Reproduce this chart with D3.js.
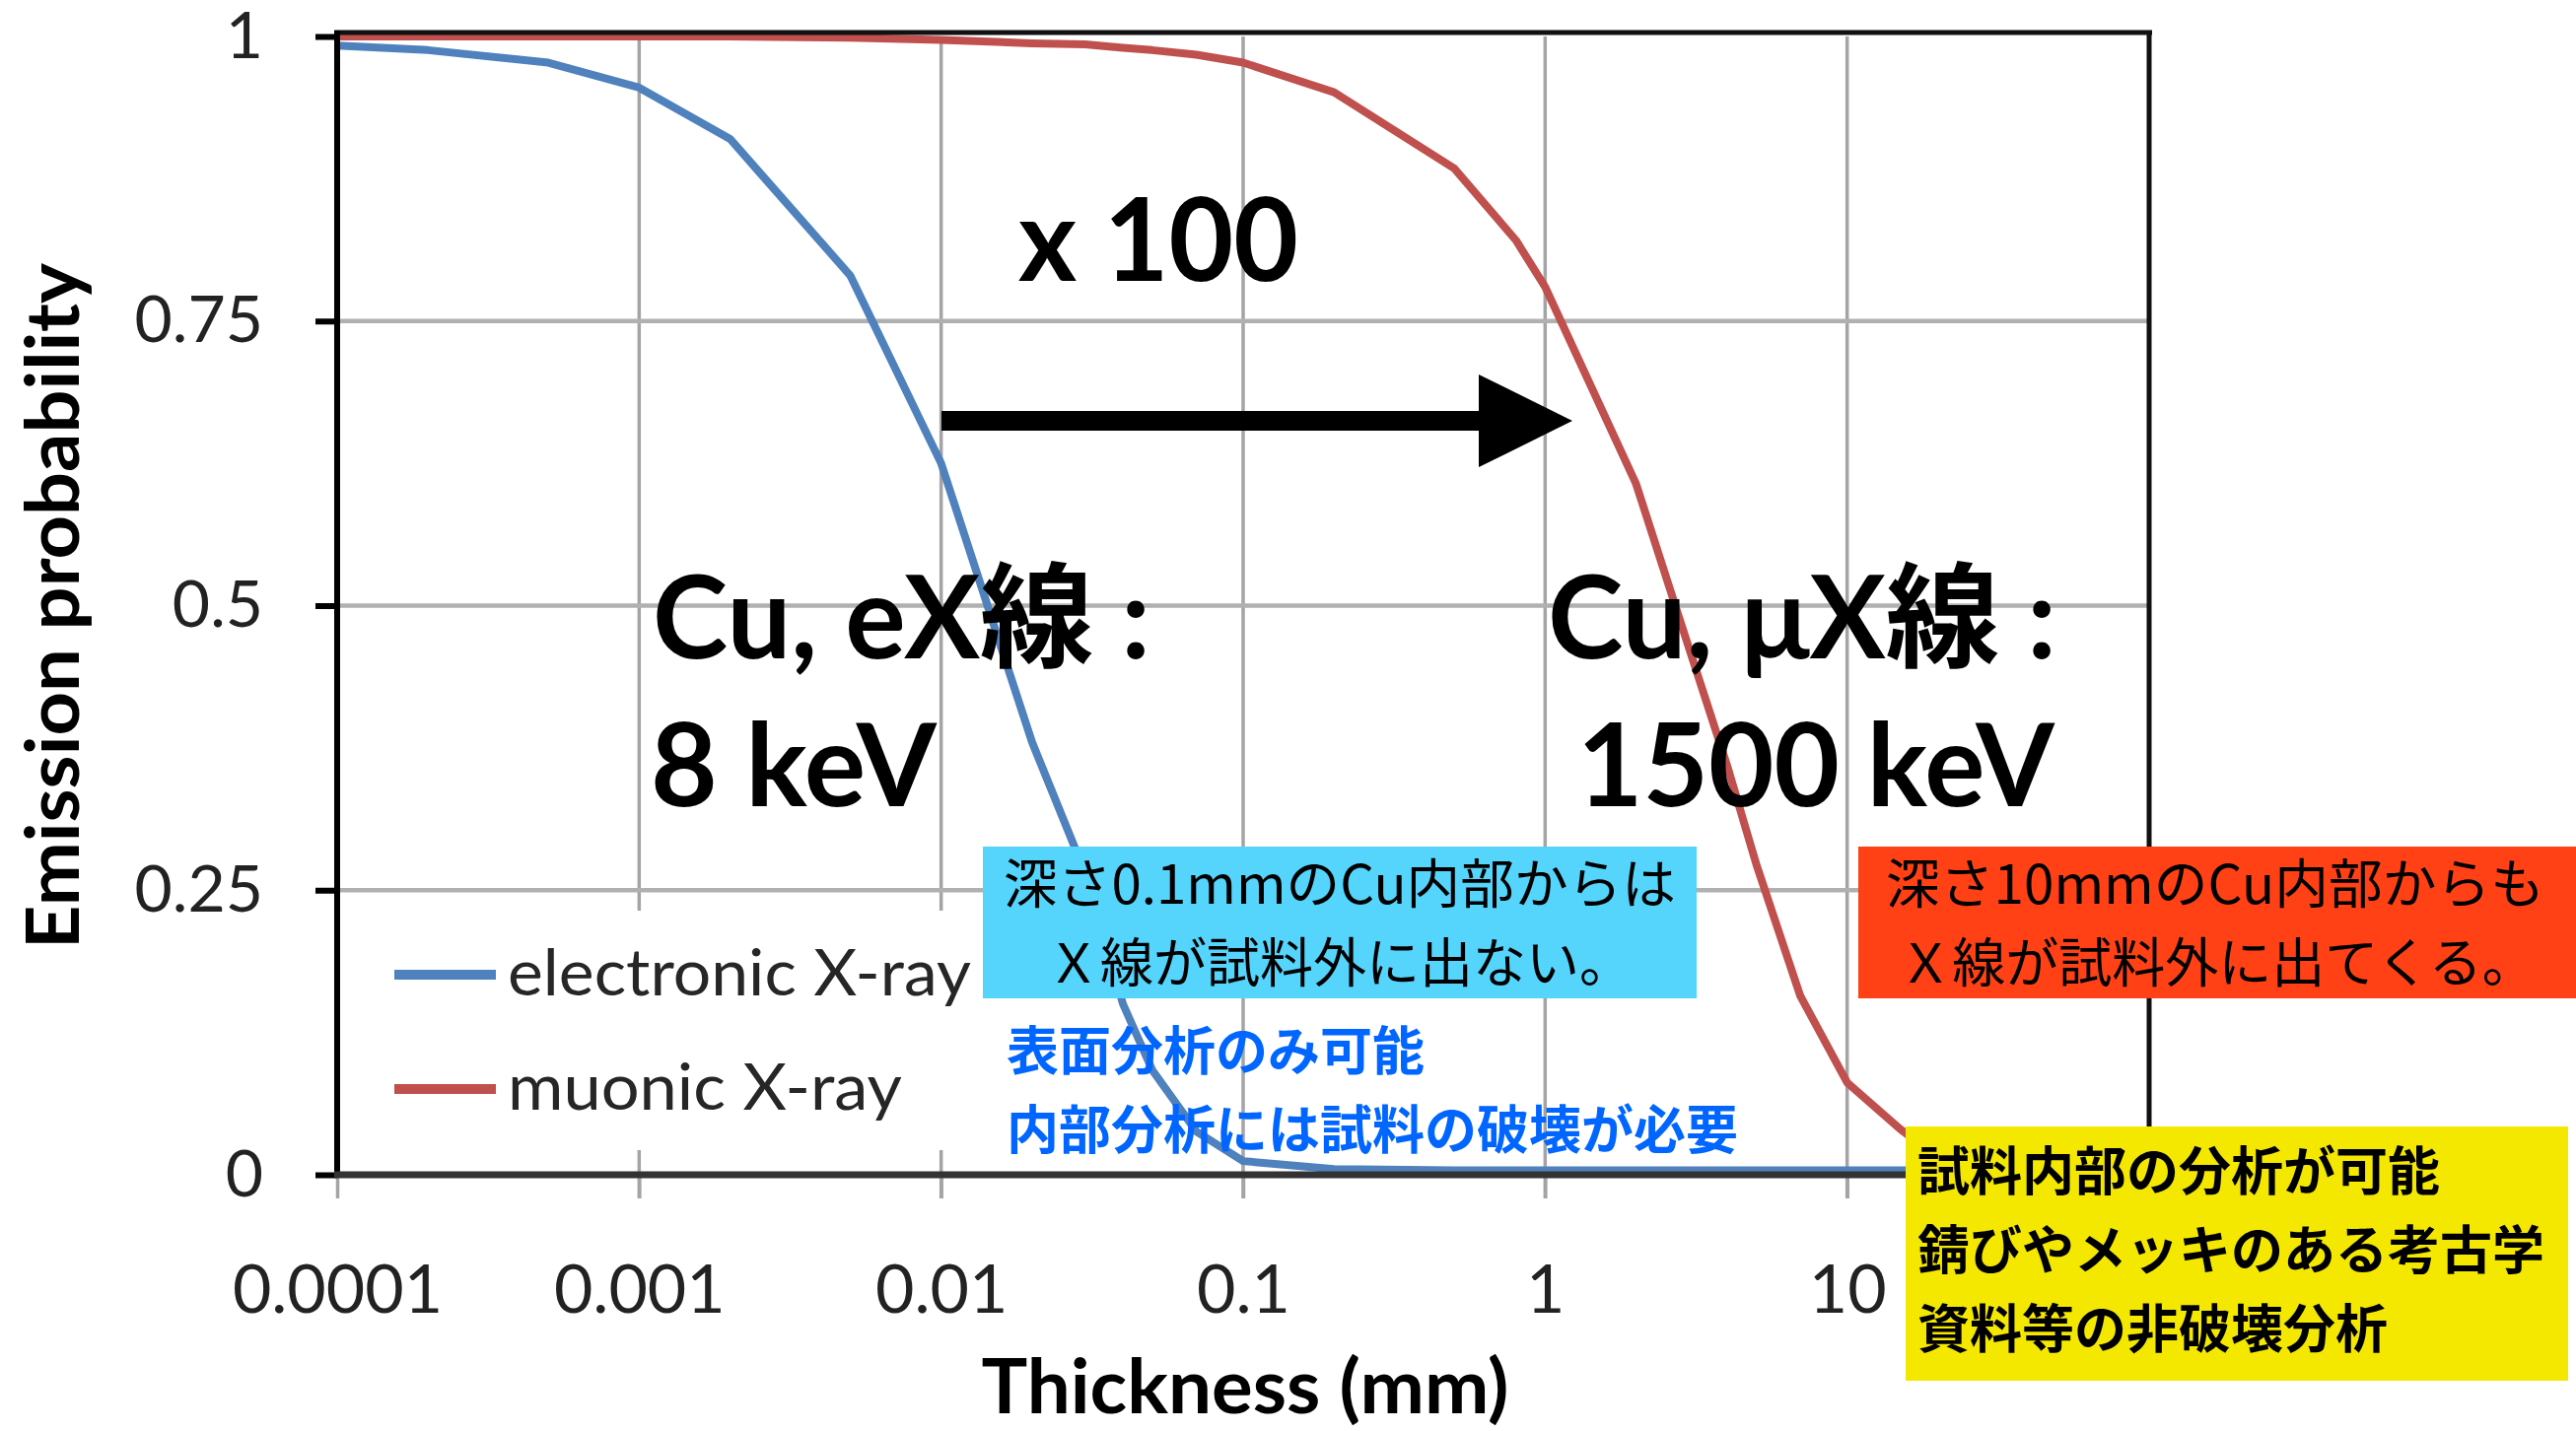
<!DOCTYPE html>
<html>
<head>
<meta charset="utf-8">
<script src="https://cdn.jsdelivr.net/npm/d3@7"></script>
<style>
  html, body { margin: 0; padding: 0; background: #fff; }
  svg { display: block; }
</style>
</head>
<body>
<svg id="chart" width="2613" height="1452"></svg>
<script>
// Sample thickness in mm (log axis)
const thickness = [1e-4, 2e-4, 5e-4, 1e-3, 2e-3, 5e-3, 0.01, 0.02, 0.03, 0.04, 0.05, 0.07,
                   0.1, 0.2, 0.5, 0.8, 1, 2, 3, 4, 5, 7, 10, 15, 20, 50, 100];

// Emission probability of Cu electronic X-rays (8 keV)
const electronic = [0.992, 0.988, 0.977, 0.955, 0.910, 0.790, 0.625, 0.380, 0.265, 0.150, 0.092, 0.038,
                    0.012, 0.005, 0.004, 0.004, 0.004, 0.004, 0.004, 0.004, 0.004, 0.004, 0.004, 0.004, 0.004, 0.004, 0.004];

// Emission probability of Cu muonic X-rays (1500 keV)
const muonic = [1.000, 1.000, 1.000, 1.000, 1.000, 0.999, 0.997, 0.994, 0.993, 0.990, 0.988, 0.984,
                0.977, 0.951, 0.884, 0.821, 0.780, 0.607, 0.462, 0.360, 0.273, 0.157, 0.081, 0.040, 0.015, 0.0, 0.0];

const seriesNames = ["electronic X-ray", "muonic X-ray"];
const seriesColors = ["#4F81BD", "#C0504D"];

// Labelled decades (the 100 mm decade is the right border, covered by the note box)
const xTicks = [1e-4, 1e-3, 1e-2, 1e-1, 1, 10];
const xTickLabels = ["0.0001", "0.001", "0.01", "0.1", "1", "10"];
const yTicks = [0, 0.25, 0.5, 0.75, 1];
const yTickLabels = ["0", "0.25", "0.5", "0.75", "1"];

const LATIN = "Lato, 'Noto Sans CJK JP', sans-serif";
const CJK = "'Noto Sans CJK JP', sans-serif";

const svg = d3.select("#chart");
svg.append("rect").attr("width", 2613).attr("height", 1452).attr("fill", "#fff");

const plot = { left: 342, right: 2180, top: 37, bottom: 1192 };
const x = d3.scaleLog().domain([1e-4, 100]).range([plot.left, plot.right]);
const y = d3.scaleLinear().domain([0, 1]).range([plot.bottom, plot.top]);

// Stretch a text element horizontally so its advance width equals `w`
function fit(sel, w, tx, ty, rot) {
  const n = sel.node();
  const cur = n.getComputedTextLength();
  const s = w / cur;
  sel.attr("x", 0).attr("y", 0)
     .attr("transform", `translate(${tx},${ty})` + (rot ? ` rotate(${rot})` : "") + ` scale(${s},1)`);
  return sel;
}

// Gridlines
const grid = svg.append("g");
grid.selectAll("line.v").data(xTicks.slice(1)).join("line")
  .attr("x1", d => x(d)).attr("x2", d => x(d))
  .attr("y1", plot.top).attr("y2", plot.bottom + 24)
  .attr("stroke", "#a4a4a4").attr("stroke-width", 3.5);
grid.selectAll("line.h").data([0.25, 0.5, 0.75]).join("line")
  .attr("x1", plot.left).attr("x2", plot.right)
  .attr("y1", d => y(d)).attr("y2", d => y(d))
  .attr("stroke", "#b0b0b0").attr("stroke-width", 4.5);

// X axis (gray outward ticks, labels below)
const xAxis = svg.append("g").attr("transform", `translate(0,${plot.bottom})`)
  .call(d3.axisBottom(x).tickValues(xTicks).tickFormat((d, i) => xTickLabels[i])
        .tickSize(24).tickPadding(68));
xAxis.select(".domain").remove();
xAxis.selectAll(".tick line").attr("stroke", "#a4a4a4").attr("stroke-width", 3.5);
xAxis.selectAll(".tick text").attr("font-family", LATIN).attr("font-size", 68).attr("fill", "#222");

// Y axis (black outward ticks, labels left)
const yAxis = svg.append("g").attr("transform", `translate(${plot.left},0)`)
  .call(d3.axisLeft(y).tickValues(yTicks).tickFormat((d, i) => yTickLabels[i])
        .tickSize(22).tickPadding(53));
yAxis.select(".domain").remove();
yAxis.selectAll(".tick line").attr("stroke", "#000").attr("stroke-width", 6);
yAxis.selectAll(".tick text").attr("font-family", LATIN).attr("font-size", 66).attr("fill", "#222");

// Legend background
svg.append("rect").attr("x", 355).attr("y", 924).attr("width", 640).attr("height", 243).attr("fill", "#fff");

// Data lines
const line = d3.line().x(d => x(d[0])).y(d => y(d[1]));
[electronic, muonic].forEach((vals, i) => {
  svg.append("path")
    .datum(thickness.map((t, k) => [t, vals[k]]))
    .attr("d", line)
    .attr("fill", "none")
    .attr("stroke", seriesColors[i])
    .attr("stroke-width", 8)
    .attr("stroke-linejoin", "round");
});

// Plot frame: left axis, bottom axis, top and right border
svg.append("line").attr("x1", plot.left - 3).attr("x2", plot.right + 3).attr("y1", plot.top - 4).attr("y2", plot.top - 4)
  .attr("stroke", "#111").attr("stroke-width", 5);
svg.append("line").attr("x1", plot.right).attr("x2", plot.right).attr("y1", plot.top - 6).attr("y2", plot.bottom)
  .attr("stroke", "#111").attr("stroke-width", 5);
svg.append("line").attr("x1", plot.left).attr("x2", plot.left).attr("y1", plot.top - 6).attr("y2", plot.bottom + 3)
  .attr("stroke", "#000").attr("stroke-width", 6);
svg.append("line").attr("x1", plot.left - 3).attr("x2", plot.right + 2).attr("y1", plot.bottom).attr("y2", plot.bottom)
  .attr("stroke", "#333").attr("stroke-width", 7);

// Legend entries
const legendY = [989, 1105];
seriesNames.forEach((name, i) => {
  svg.append("line").attr("x1", 400).attr("x2", 503).attr("y1", legendY[i]).attr("y2", legendY[i])
    .attr("stroke", seriesColors[i]).attr("stroke-width", 10);
  const t = svg.append("text").text(name)
    .attr("font-family", LATIN).attr("font-size", 66).attr("fill", "#262626");
  fit(t, i === 0 ? 470 : 400, 515, legendY[i] + 21);
});

// Axis titles
fit(svg.append("text").text("Emission probability")
      .attr("font-family", LATIN).attr("font-weight", 700).attr("font-size", 74)
      .attr("text-anchor", "middle").attr("fill", "#000"), 696, 80, 615, -90);
fit(svg.append("text").text("Thickness (mm)")
      .attr("font-family", LATIN).attr("font-weight", 700).attr("font-size", 76)
      .attr("text-anchor", "middle").attr("fill", "#000"), 535, 1263, 1434);

// Shift arrow: x 100
svg.append("line").attr("x1", 955).attr("x2", 1505).attr("y1", 427).attr("y2", 427)
  .attr("stroke", "#000").attr("stroke-width", 20);
svg.append("path").attr("d", "M1500,380 L1595,427 L1500,474 Z").attr("fill", "#000");

function boldLabel(str, tx, ty, w) {
  const t = svg.append("text").text(str)
    .attr("font-family", LATIN).attr("font-weight", 700).attr("font-size", 116).attr("fill", "#000");
  fit(t, w, tx, ty);
}
boldLabel("x 100", 1033, 285, 284);
boldLabel("Cu, eX線 :", 662, 668, 505);
boldLabel("8 keV", 660, 818, 290);
boldLabel("Cu, μX線 :", 1570, 668, 516);
boldLabel("1500 keV", 1600, 818, 484);

// Note boxes
svg.append("rect").attr("x", 997).attr("y", 859).attr("width", 724).attr("height", 154).attr("fill", "#55D4FC");
svg.append("rect").attr("x", 1885).attr("y", 859).attr("width", 728).attr("height", 154).attr("fill", "#FF4115");
svg.append("rect").attr("x", 1933).attr("y", 1143).attr("width", 672).attr("height", 258).attr("fill", "#F4E800");

function note(str, cx, ty, opts) {
  const t = svg.append("text").text(str)
    .attr("font-family", CJK).attr("font-size", opts.size || 54)
    .attr("font-weight", opts.weight || 400)
    .attr("fill", opts.fill || "#000")
    .attr("text-anchor", opts.anchor || "middle");
  if (opts.width) fit(t, opts.width, cx, ty);
  else t.attr("x", cx).attr("y", ty);
}
note("深さ0.1mmのCu内部からは", 1359, 917, { width: 682 });
note("Ｘ線が試料外に出ない。", 1359, 997, {});
note("深さ10mmのCu内部からも", 2247, 917, { width: 668 });
note("Ｘ線が試料外に出てくる。", 2249, 997, {});

note("表面分析のみ可能", 1021, 1086, { anchor: "start", size: 53, weight: 700, fill: "#0066FF" });
note("内部分析には試料の破壊が必要", 1021, 1166, { anchor: "start", size: 53, weight: 700, fill: "#0066FF" });

note("試料内部の分析が可能", 1945, 1208, { anchor: "start", size: 53, weight: 700 });
note("錆びやメッキのある考古学", 1945, 1288, { anchor: "start", size: 53, weight: 700 });
note("資料等の非破壊分析", 1945, 1368, { anchor: "start", size: 53, weight: 700 });
</script>
</body>
</html>
